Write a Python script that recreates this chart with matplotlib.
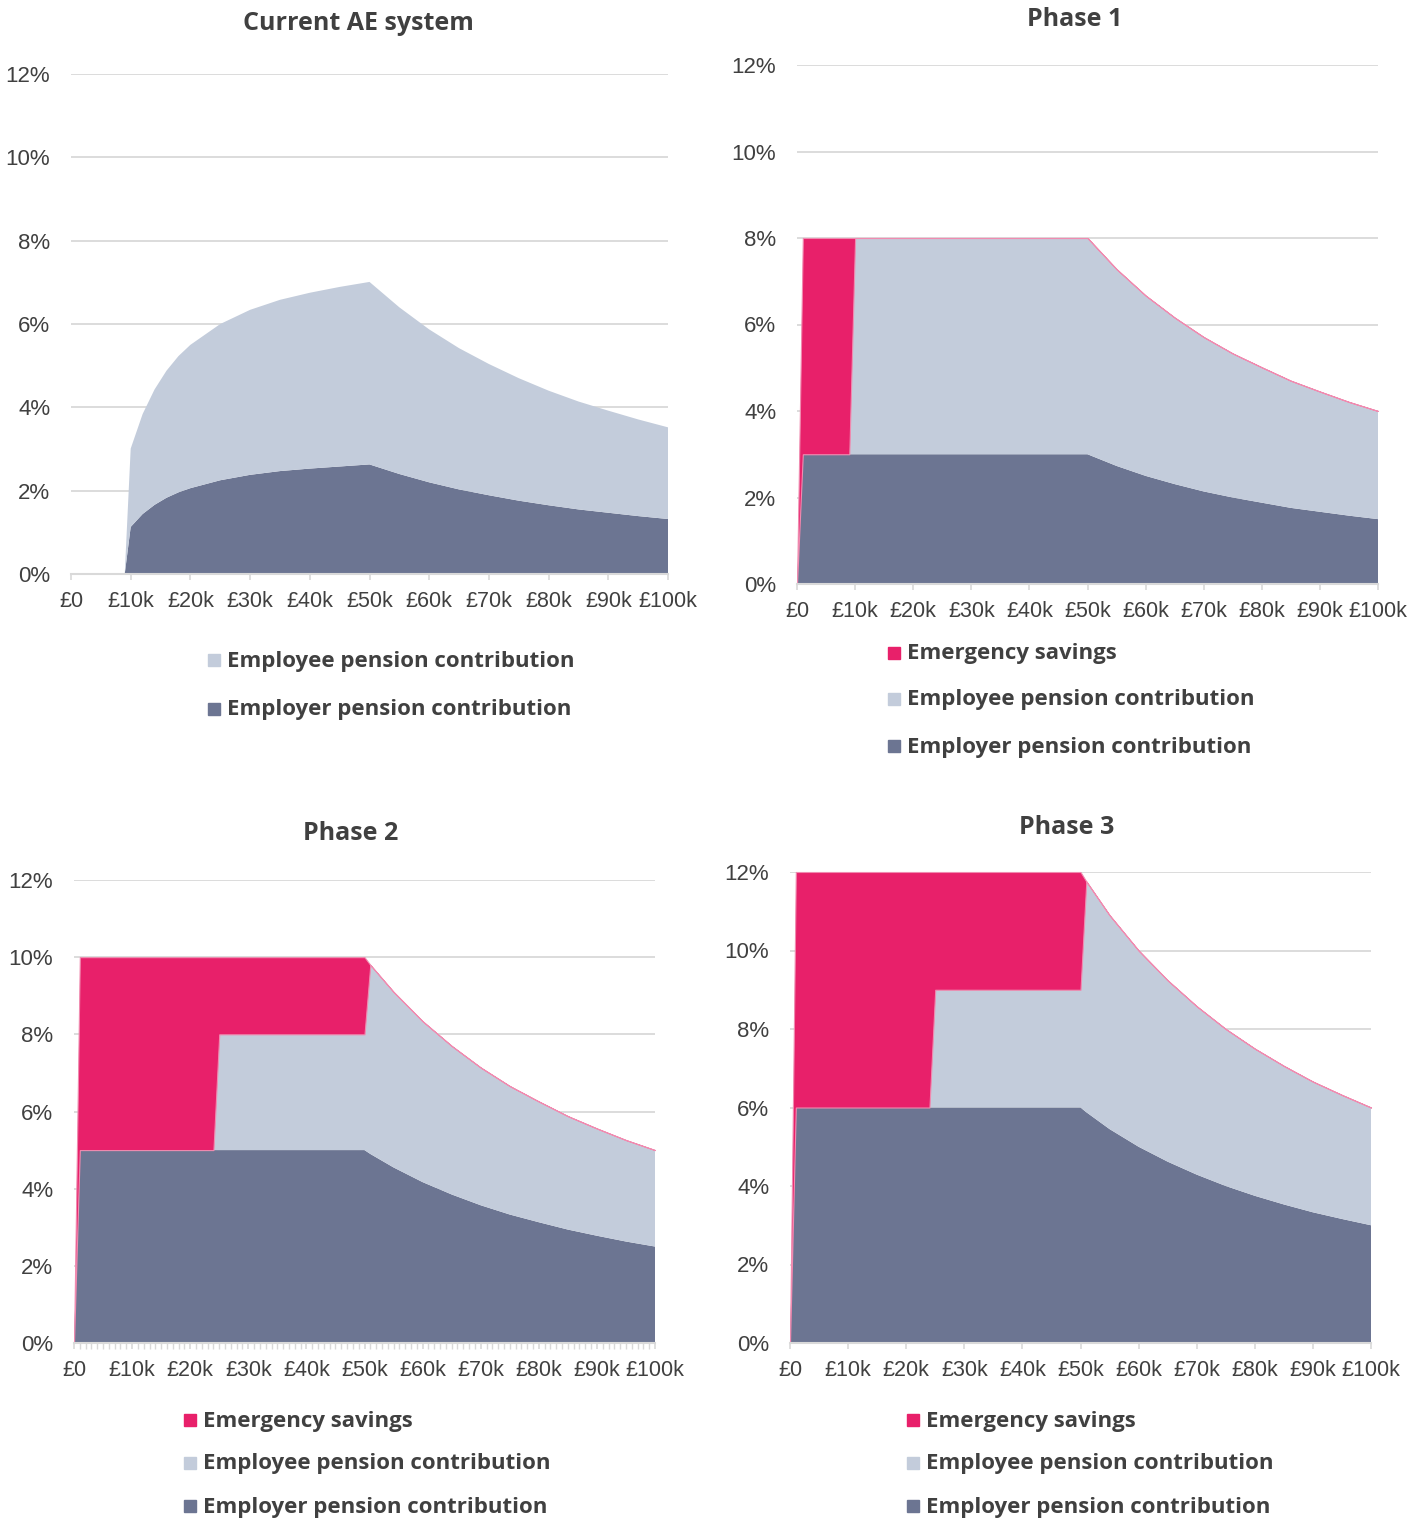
import matplotlib.pyplot as plt
from matplotlib.patches import Rectangle
from matplotlib.ticker import MultipleLocator

# salary in £k, contributions as % of salary
salary_ae = [0, 9, 10, 12, 14, 16, 18, 20, 25, 30, 35, 40, 45, 50,
             55, 60, 65, 70, 75, 80, 85, 90, 95, 100]
employer_ae = [0, 0, 1.13, 1.44, 1.66, 1.83, 1.96, 2.06, 2.25, 2.38, 2.47, 2.53, 2.58, 2.63,
               2.40, 2.20, 2.03, 1.89, 1.76, 1.65, 1.55, 1.47, 1.39, 1.32]
employee_ae = [0, 0, 1.88, 2.40, 2.77, 3.05, 3.27, 3.44, 3.75, 3.96, 4.11, 4.22, 4.31, 4.38,
               4.00, 3.67, 3.39, 3.15, 2.94, 2.75, 2.59, 2.45, 2.32, 2.20]

salary_p1 = [0, 1, 9, 10, 50, 55, 60, 65, 70, 75, 80, 85, 90, 95, 100]
employer_p1 = [0, 3, 3, 3, 3, 2.73, 2.50, 2.31, 2.14, 2.00, 1.88, 1.76, 1.67, 1.58, 1.50]
employee_p1 = [0, 0, 0, 5, 5, 4.55, 4.17, 3.85, 3.57, 3.33, 3.13, 2.94, 2.78, 2.63, 2.50]
savings_p1 = [0, 5, 5, 0, 0, 0, 0, 0, 0, 0, 0, 0, 0, 0, 0]

salary_p23 = [0, 1, 24, 25, 50, 51, 55, 60, 65, 70, 75, 80, 85, 90, 95, 100]
employer_p2 = [0, 5, 5, 5, 5, 4.90, 4.55, 4.17, 3.85, 3.57, 3.33, 3.13, 2.94, 2.78, 2.63, 2.50]
employee_p2 = [0, 0, 0, 3, 3, 4.90, 4.55, 4.17, 3.85, 3.57, 3.33, 3.13, 2.94, 2.78, 2.63, 2.50]
savings_p2 = [0, 5, 5, 2, 2, 0, 0, 0, 0, 0, 0, 0, 0, 0, 0, 0]

employer_p3 = [0, 6, 6, 6, 6, 5.88, 5.45, 5.00, 4.62, 4.29, 4.00, 3.75, 3.53, 3.33, 3.16, 3.00]
employee_p3 = [0, 0, 0, 3, 3, 5.88, 5.45, 5.00, 4.62, 4.29, 4.00, 3.75, 3.53, 3.33, 3.16, 3.00]
savings_p3 = [0, 6, 6, 3, 3, 0, 0, 0, 0, 0, 0, 0, 0, 0, 0, 0]

x_ticks = [0, 10, 20, 30, 40, 50, 60, 70, 80, 90, 100]
x_labels = ["£0", "£10k", "£20k", "£30k", "£40k", "£50k",
            "£60k", "£70k", "£80k", "£90k", "£100k"]
y_ticks = [0, 2, 4, 6, 8, 10, 12]
y_labels = ["0%", "2%", "4%", "6%", "8%", "10%", "12%"]

PINK = "#E8206A"
LIGHT = "#C3CCDB"
DARK = "#6C7592"
GRID = "#D9D9D9"
TEXT = "#404040"

W, H = 1425, 1519
fig = plt.figure(figsize=(W / 100, H / 100), dpi=100)


def px_axes(left, right, bottom, top):
    return fig.add_axes([left / W, 1 - bottom / H, (right - left) / W, (bottom - top) / H])


def style_axes(ax, minor=False):
    ax.set_xlim(0, 100)
    ax.set_ylim(0, 12)
    ax.set_xticks(x_ticks)
    ax.set_xticklabels(x_labels)
    ax.set_yticks(y_ticks)
    ax.set_yticklabels(y_labels)
    for lab in ax.get_xticklabels():
        lab.set_family("Liberation Sans")
        lab.set_fontsize(15.5)
        lab.set_color(TEXT)
    for lab in ax.get_yticklabels():
        lab.set_family("Liberation Sans")
        lab.set_fontsize(16)
        lab.set_color(TEXT)
    ax.grid(axis="y", color=GRID, linewidth=1.3)
    ax.set_axisbelow(True)
    for s in ["top", "right", "left"]:
        ax.spines[s].set_visible(False)
    ax.spines["bottom"].set_color(GRID)
    ax.spines["bottom"].set_linewidth(1.5)
    ax.tick_params(axis="x", length=4, color=GRID, width=1.2, pad=8)
    ax.tick_params(axis="y", length=0, pad=15)
    if minor:
        ax.xaxis.set_minor_locator(MultipleLocator(1))
        ax.tick_params(axis="x", which="minor", length=4, color=GRID, width=1.0)


def draw_panel(ax, x, employer, employee, savings=None):
    series = [employer, employee] + ([savings] if savings is not None else [])
    colors = [DARK, LIGHT, PINK][:len(series)]
    polys = ax.stackplot(x, *series, colors=colors, linewidth=0)
    if savings is not None:
        polys[2].set_edgecolor("#F08BB0")
        polys[2].set_linewidth(0.8)
    for p in polys:
        p.set_clip_on(False)


def title(x, y, text):
    fig.text(x / W, 1 - (y + 3) / H, text, family="Open Sans", weight="bold", fontsize=18,
             color=TEXT, ha="center", va="center")


def legend(x, rows, entries):
    for y, (label, color) in zip(rows, entries):
        fig.patches.append(Rectangle((x / W, 1 - (y + 7) / H), 12 / W, 12 / H,
                                     transform=fig.transFigure, color=color))
        fig.text((x + 19) / W, 1 - (y + 2) / H, label, family="Open Sans", weight="bold",
                 fontsize=16, color=TEXT, ha="left", va="center")


ax1 = px_axes(71, 668, 574, 74)
draw_panel(ax1, salary_ae, employer_ae, employee_ae)
style_axes(ax1)
title(358, 20, "Current AE system")
legend(208, [659, 708], [("Employee pension contribution", LIGHT),
                         ("Employer pension contribution", DARK)])

ax2 = px_axes(797, 1378, 584, 65)
draw_panel(ax2, salary_p1, employer_p1, employee_p1, savings_p1)
style_axes(ax2)
title(1075, 16, "Phase 1")
three = [("Emergency savings", PINK), ("Employee pension contribution", LIGHT),
         ("Employer pension contribution", DARK)]
legend(888, [652, 698, 745], three)

ax3 = px_axes(74, 655, 1343, 880)
draw_panel(ax3, salary_p23, employer_p2, employee_p2, savings_p2)
style_axes(ax3, minor=True)
title(351, 831, "Phase 2")
legend(184, [1419, 1462, 1505], three)

ax4 = px_axes(790, 1371, 1343, 872)
draw_panel(ax4, salary_p23, employer_p3, employee_p3, savings_p3)
style_axes(ax4)
title(1067, 824, "Phase 3")
legend(907, [1419, 1462, 1505], three)

fig.savefig("out.png", dpi=100)
